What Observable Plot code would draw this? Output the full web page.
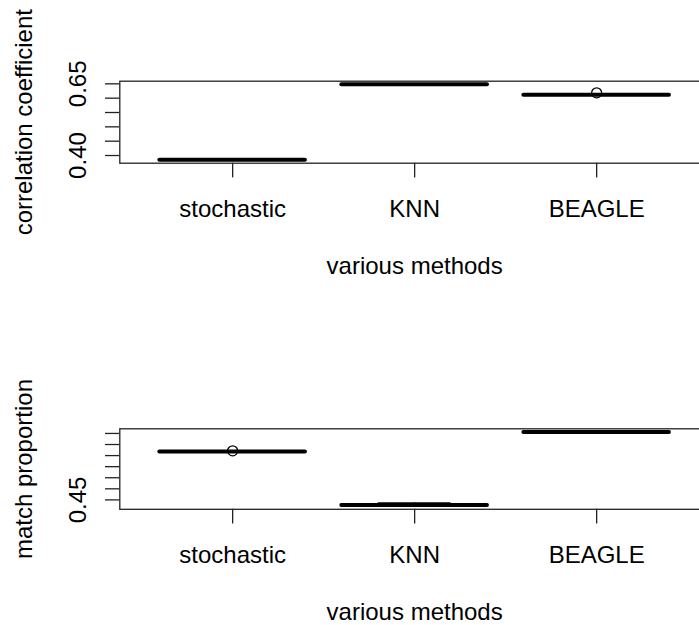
<!DOCTYPE html>
<html>
<head>
<meta charset="utf-8">
<script src="https://cdn.jsdelivr.net/npm/d3@7"></script>
<script src="https://cdn.jsdelivr.net/npm/@observablehq/plot@0.6"></script>
<style>
  html, body { margin: 0; padding: 0; background: #fff; }
  #chart { width: 699px; height: 625px; overflow: hidden; }
  #chart svg { display: block; }
</style>
</head>
<body>
<div id="chart"></div>
<script>
const methods = ["stochastic", "KNN", "BEAGLE"];
const xTitle = "various methods";

// Top panel: correlation coefficient (five-number summaries per method)
const corrTitle = "correlation coefficient";
const corrLo  = [0.3838, 0.6475, 0.6110];
const corrQ1  = [0.3845, 0.6480, 0.6113];
const corrMed = [0.3850, 0.6482, 0.6116];
const corrQ3  = [0.3852, 0.6484, 0.6118];
const corrHi  = [0.3856, 0.6486, 0.6120];
const corrOutMethod = ["BEAGLE"];
const corrOutValue  = [0.6186];
const corrTicks = [0.40, 0.45, 0.50, 0.55, 0.60, 0.65];
const corrTickLabels = ["0.40", "", "", "", "", "0.65"];

// Bottom panel: match proportion
const matchTitle = "match proportion";
const matchLo  = [0.4932, 0.4442, 0.5108];
const matchQ1  = [0.4935, 0.4453, 0.5110];
const matchMed = [0.4937, 0.4455, 0.5112];
const matchQ3  = [0.4939, 0.4457, 0.5113];
const matchHi  = [0.4941, 0.4472, 0.5115];
const matchOutMethod = ["stochastic"];
const matchOutValue  = [0.4943];
const matchTicks = [0.45, 0.46, 0.47, 0.48, 0.49, 0.50, 0.51];
const matchTickLabels = ["0.45", "", "", "", "", "", ""];

const FONT = "'Liberation Sans', Arial, Helvetica, sans-serif";
const FS = 24;

function panel(cfg) {
  const rows = methods.map((m, i) => ({
    method: m, x: i + 1,
    lo: cfg.lo[i], q1: cfg.q1[i], med: cfg.med[i], q3: cfg.q3[i], hi: cfg.hi[i]
  }));
  const outs = cfg.outMethod.map((m, i) => ({x: methods.indexOf(m) + 1, y: cfg.outValue[i]}));
  const ext = d3.extent([...cfg.lo, ...cfg.hi, ...cfg.outValue]);
  const pad = (ext[1] - ext[0]) * 0.04;
  const n = methods.length;
  const xpad = n * 0.04;
  const lw = 1.3;
  return Plot.plot({
    width: 699,
    height: cfg.height,
    marginLeft: 119.3,
    marginRight: -10,
    marginTop: cfg.marginTop,
    marginBottom: cfg.marginBottom,
    style: {fontFamily: FONT, fontSize: FS + "px", color: "#000", background: "#fff"},
    x: {domain: [0.5 - xpad, n + 0.5 + xpad], axis: null},
    y: {domain: [ext[0] - pad, ext[1] + pad], axis: null},
    marks: [
      Plot.frame({stroke: "#222", strokeWidth: lw}),
      Plot.ruleX(rows, {x: "x", y1: "q3", y2: "hi", stroke: "#000", strokeWidth: lw, strokeDasharray: "5,4"}),
      Plot.ruleX(rows, {x: "x", y1: "lo", y2: "q1", stroke: "#000", strokeWidth: lw, strokeDasharray: "5,4"}),
      Plot.ruleY(rows, {y: "hi", x1: d => d.x - 0.2, x2: d => d.x + 0.2, stroke: "#000", strokeWidth: lw}),
      Plot.ruleY(rows, {y: "lo", x1: d => d.x - 0.2, x2: d => d.x + 0.2, stroke: "#000", strokeWidth: lw}),
      Plot.rect(rows, {x1: d => d.x - 0.4, x2: d => d.x + 0.4, y1: "q1", y2: "q3", fill: "none", stroke: "#000", strokeWidth: lw}),
      Plot.ruleY(rows, {y: "med", x1: d => d.x - 0.4, x2: d => d.x + 0.4, stroke: "#000", strokeWidth: 4, strokeLinecap: "round"}),
      Plot.dot(outs, {x: "x", y: "y", r: 5, stroke: "#000", strokeWidth: lw, fill: "none"}),
      Plot.axisX({
        ticks: methods.map((m, i) => i + 1),
        tickFormat: v => methods[v - 1],
        tickSize: 14.7, tickPadding: 22.3, label: null,
        fontSize: FS, stroke: "#222", strokeWidth: lw
      }),
      Plot.axisY({
        ticks: cfg.ticks,
        tickFormat: v => cfg.tickLabels[cfg.ticks.indexOf(v)],
        tickSize: 14.3, tickPadding: 20, label: null,
        tickRotate: -90, textAnchor: "middle", lineAnchor: "bottom",
        fontSize: FS, stroke: "#222", strokeWidth: lw
      }),
      Plot.text([xTitle], {text: d => d, frameAnchor: "bottom", dy: 110.6, lineAnchor: "bottom", fontSize: FS, fill: "#000"}),
      Plot.text([cfg.title], {text: d => d, frameAnchor: "left", dx: -87.6, rotate: -90, textAnchor: "middle", lineAnchor: "bottom", fontSize: FS, fill: "#000"})
    ]
  });
}

const chart = document.getElementById("chart");
chart.appendChild(panel({
  title: corrTitle, lo: corrLo, q1: corrQ1, med: corrMed, q3: corrQ3, hi: corrHi,
  outMethod: corrOutMethod, outValue: corrOutValue,
  ticks: corrTicks, tickLabels: corrTickLabels,
  height: 312, marginTop: 80.7, marginBottom: 149.3
}));
chart.appendChild(panel({
  title: matchTitle, lo: matchLo, q1: matchQ1, med: matchMed, q3: matchQ3, hi: matchHi,
  outMethod: matchOutMethod, outValue: matchOutValue,
  ticks: matchTicks, tickLabels: matchTickLabels,
  height: 313, marginTop: 116.3, marginBottom: 116.2
}));
</script>
</body>
</html>
